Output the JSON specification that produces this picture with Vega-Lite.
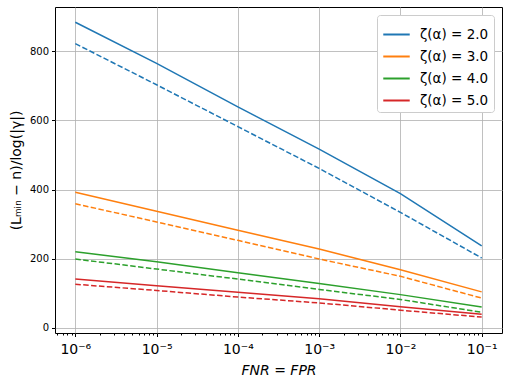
{
  "$schema": "https://vega.github.io/schema/vega-lite/v6.json",
  "width": 447,
  "height": 326,
  "autosize": "none",
  "padding": {"left": 55, "top": 7, "right": 6, "bottom": 49},
  "background": "white",
  "config": {
    "font": "DejaVu Sans",
    "view": {"stroke": "black", "strokeWidth": 1},
    "axis": {"labelColor": "black", "titleColor": "black", "tickColor": "black", "gridColor": "#b0b0b0", "gridWidth": 0.8, "domain": false, "titleFontWeight": "normal"}
  },
  "datasets": {
    "lines": [
      {"x": 1e-6, "y": 884, "zeta": "ζ(α) = 2.0", "kind": "solid"},
      {"x": 1e-5, "y": 765, "zeta": "ζ(α) = 2.0", "kind": "solid"},
      {"x": 1e-4, "y": 639, "zeta": "ζ(α) = 2.0", "kind": "solid"},
      {"x": 1e-3, "y": 517, "zeta": "ζ(α) = 2.0", "kind": "solid"},
      {"x": 1e-2, "y": 388, "zeta": "ζ(α) = 2.0", "kind": "solid"},
      {"x": 1e-1, "y": 237, "zeta": "ζ(α) = 2.0", "kind": "solid"},
      {"x": 1e-6, "y": 822, "zeta": "ζ(α) = 2.0", "kind": "dashed"},
      {"x": 1e-5, "y": 703, "zeta": "ζ(α) = 2.0", "kind": "dashed"},
      {"x": 1e-4, "y": 582, "zeta": "ζ(α) = 2.0", "kind": "dashed"},
      {"x": 1e-3, "y": 461, "zeta": "ζ(α) = 2.0", "kind": "dashed"},
      {"x": 1e-2, "y": 334, "zeta": "ζ(α) = 2.0", "kind": "dashed"},
      {"x": 1e-1, "y": 202, "zeta": "ζ(α) = 2.0", "kind": "dashed"},
      {"x": 1e-6, "y": 392, "zeta": "ζ(α) = 3.0", "kind": "solid"},
      {"x": 1e-5, "y": 337, "zeta": "ζ(α) = 3.0", "kind": "solid"},
      {"x": 1e-4, "y": 282, "zeta": "ζ(α) = 3.0", "kind": "solid"},
      {"x": 1e-3, "y": 228, "zeta": "ζ(α) = 3.0", "kind": "solid"},
      {"x": 1e-2, "y": 168, "zeta": "ζ(α) = 3.0", "kind": "solid"},
      {"x": 1e-1, "y": 104, "zeta": "ζ(α) = 3.0", "kind": "solid"},
      {"x": 1e-6, "y": 359, "zeta": "ζ(α) = 3.0", "kind": "dashed"},
      {"x": 1e-5, "y": 306, "zeta": "ζ(α) = 3.0", "kind": "dashed"},
      {"x": 1e-4, "y": 253, "zeta": "ζ(α) = 3.0", "kind": "dashed"},
      {"x": 1e-3, "y": 199, "zeta": "ζ(α) = 3.0", "kind": "dashed"},
      {"x": 1e-2, "y": 149, "zeta": "ζ(α) = 3.0", "kind": "dashed"},
      {"x": 1e-1, "y": 86, "zeta": "ζ(α) = 3.0", "kind": "dashed"},
      {"x": 1e-6, "y": 220, "zeta": "ζ(α) = 4.0", "kind": "solid"},
      {"x": 1e-5, "y": 191, "zeta": "ζ(α) = 4.0", "kind": "solid"},
      {"x": 1e-4, "y": 159, "zeta": "ζ(α) = 4.0", "kind": "solid"},
      {"x": 1e-3, "y": 128, "zeta": "ζ(α) = 4.0", "kind": "solid"},
      {"x": 1e-2, "y": 96, "zeta": "ζ(α) = 4.0", "kind": "solid"},
      {"x": 1e-1, "y": 60, "zeta": "ζ(α) = 4.0", "kind": "solid"},
      {"x": 1e-6, "y": 199, "zeta": "ζ(α) = 4.0", "kind": "dashed"},
      {"x": 1e-5, "y": 170, "zeta": "ζ(α) = 4.0", "kind": "dashed"},
      {"x": 1e-4, "y": 141, "zeta": "ζ(α) = 4.0", "kind": "dashed"},
      {"x": 1e-3, "y": 111, "zeta": "ζ(α) = 4.0", "kind": "dashed"},
      {"x": 1e-2, "y": 82, "zeta": "ζ(α) = 4.0", "kind": "dashed"},
      {"x": 1e-1, "y": 45, "zeta": "ζ(α) = 4.0", "kind": "dashed"},
      {"x": 1e-6, "y": 141, "zeta": "ζ(α) = 5.0", "kind": "solid"},
      {"x": 1e-5, "y": 122, "zeta": "ζ(α) = 5.0", "kind": "solid"},
      {"x": 1e-4, "y": 103, "zeta": "ζ(α) = 5.0", "kind": "solid"},
      {"x": 1e-3, "y": 84, "zeta": "ζ(α) = 5.0", "kind": "solid"},
      {"x": 1e-2, "y": 61, "zeta": "ζ(α) = 5.0", "kind": "solid"},
      {"x": 1e-1, "y": 39, "zeta": "ζ(α) = 5.0", "kind": "solid"},
      {"x": 1e-6, "y": 126, "zeta": "ζ(α) = 5.0", "kind": "dashed"},
      {"x": 1e-5, "y": 108, "zeta": "ζ(α) = 5.0", "kind": "dashed"},
      {"x": 1e-4, "y": 89, "zeta": "ζ(α) = 5.0", "kind": "dashed"},
      {"x": 1e-3, "y": 72, "zeta": "ζ(α) = 5.0", "kind": "dashed"},
      {"x": 1e-2, "y": 51, "zeta": "ζ(α) = 5.0", "kind": "dashed"},
      {"x": 1e-1, "y": 31, "zeta": "ζ(α) = 5.0", "kind": "dashed"}
    ]
  },
  "data": {"name": "lines"},
  "resolve": {"axis": {"x": "independent"}},
  "layer": [
    {
      "transform": [{"filter": "datum.kind === 'solid'"}],
      "mark": {"type": "line", "strokeWidth": 1.5},
      "encoding": {
        "x": {
          "field": "x", "type": "quantitative",
          "scale": {"type": "log", "domain": [5.6234e-7, 0.17783], "nice": false},
          "axis": {
            "orient": "bottom",
            "values": [1e-6, 1e-5, 1e-4, 1e-3, 1e-2, 1e-1],
            "labelExpr": "'10' + (round(log(datum.value)/LN10) == -6 ? '⁻⁶' : round(log(datum.value)/LN10) == -5 ? '⁻⁵' : round(log(datum.value)/LN10) == -4 ? '⁻⁴' : round(log(datum.value)/LN10) == -3 ? '⁻³' : round(log(datum.value)/LN10) == -2 ? '⁻²' : '⁻¹')",
            "labelFontSize": 14,
            "labelPadding": 6,
            "tickSize": 3.5,
            "grid": true,
            "title": "FNR = FPR",
            "titleFontSize": 14,
            "titleFontStyle": "italic",
            "titlePadding": 7
          }
        },
        "y": {
          "field": "y", "type": "quantitative",
          "scale": {"domain": [-15, 928], "nice": false, "zero": false},
          "axis": {
            "values": [0, 200, 400, 600, 800],
            "labelFontSize": 10,
            "labelPadding": 3,
            "tickSize": 3.5,
            "grid": true,
            "title": "(Lₘᵢₙ − n)/log(|γ|)",
            "titleFontSize": 14,
            "titlePadding": 6
          }
        },
        "color": {
          "field": "zeta", "type": "nominal",
          "scale": {"domain": ["ζ(α) = 2.0", "ζ(α) = 3.0", "ζ(α) = 4.0", "ζ(α) = 5.0"], "range": ["#1f77b4", "#ff7f0e", "#2ca02c", "#d62728"]},
          "legend": {
            "title": null,
            "orient": "none",
            "legendX": 322,
            "legendY": 8,
            "fillColor": "white",
            "strokeColor": "#cccccc",
            "cornerRadius": 3,
            "padding": 5,
            "symbolType": "stroke",
            "symbolSize": 700,
            "symbolStrokeWidth": 2,
            "symbolDash": [1, 0],
            "labelFontSize": 13.5,
            "labelColor": "black",
            "labelOffset": 9,
            "rowPadding": 1
          }
        },
        "order": {"field": "x", "type": "quantitative"}
      }
    },
    {
      "transform": [{"filter": "datum.kind === 'dashed'"}],
      "mark": {"type": "line", "strokeWidth": 1.5, "strokeDash": [5.5, 2.4]},
      "encoding": {
        "x": {
          "field": "x", "type": "quantitative",
          "scale": {"type": "log", "domain": [5.6234e-7, 0.17783], "nice": false},
          "axis": {
            "orient": "bottom",
            "values": [6e-7, 7e-7, 8e-7, 9e-7, 2e-6, 3e-6, 4e-6, 5e-6, 6e-6, 7e-6, 8e-6, 9e-6, 2e-5, 3e-5, 4e-5, 5e-5, 6e-5, 7e-5, 8e-5, 9e-5, 2e-4, 3e-4, 4e-4, 5e-4, 6e-4, 7e-4, 8e-4, 9e-4, 2e-3, 3e-3, 4e-3, 5e-3, 6e-3, 7e-3, 8e-3, 9e-3, 0.02, 0.03, 0.04, 0.05, 0.06, 0.07, 0.08, 0.09],
            "labels": false,
            "grid": false,
            "tickSize": 2,
            "title": null
          }
        },
        "y": {"field": "y", "type": "quantitative"},
        "color": {"field": "zeta", "type": "nominal"},
        "order": {"field": "x", "type": "quantitative"}
      }
    }
  ]
}
